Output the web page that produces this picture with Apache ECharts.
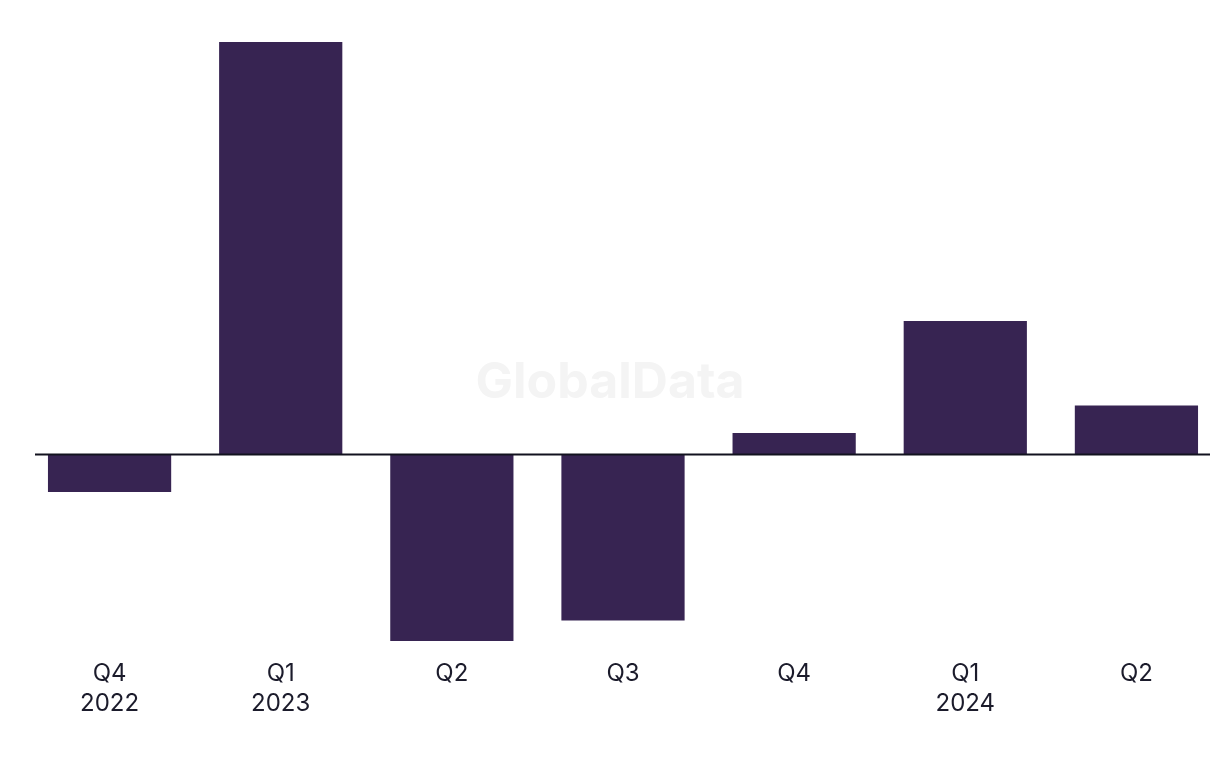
<!DOCTYPE html>
<html>
<head>
<meta charset="utf-8">
<script src="https://cdn.jsdelivr.net/npm/echarts@6/dist/echarts.min.js"></script>
<style>
html,body{margin:0;padding:0;background:#fff;}
#chart{width:1220px;height:768px;}
</style>
</head>
<body>
<div id="chart"></div>
<script>
const categories = ['Q4\n2022', 'Q1\n2023', 'Q2', 'Q3', 'Q4', 'Q1\n2024', 'Q2'];
const values = [-3.75, 41.25, -18.65, -16.6, 2.15, 13.35, 4.9];
const yMin = -18.65;
const yMax = 41.25;

const chart = echarts.init(document.getElementById('chart'));
const watermark = {
  type: 'text',
  left: 'center',
  top: 358,
  style: { text: 'GlobalData', font: 'bold 50px Inter', fill: '#f4f4f4' },
  z: 0
};
chart.setOption({
  backgroundColor: '#ffffff',
  animation: false,
  grid: { left: 24, top: 42, width: 1198, height: 599, outerBoundsMode: 'none', containLabel: false },
  xAxis: {
    type: 'category',
    data: categories,
    axisLine: { show: false, onZero: false },
    axisTick: { show: false },
    axisLabel: {
      margin: 18,
      fontFamily: 'Inter',
      fontSize: 24,
      lineHeight: 30,
      color: '#1b1b2b'
    }
  },
  yAxis: {
    type: 'value',
    min: yMin,
    max: yMax,
    show: false,
    splitLine: { show: false }
  },
  graphic: [watermark],
  series: [{
    type: 'bar',
    data: values,
    barCategoryGap: '28%',
    itemStyle: { color: '#372452' },
    z: 2
  }]
});

const y0 = chart.convertToPixel({ yAxisIndex: 0 }, 0);
chart.setOption({
  graphic: [watermark, {
    type: 'line',
    shape: { x1: 35, y1: y0, x2: 1210, y2: y0 },
    style: { stroke: '#12121f', lineWidth: 2 },
    z: 10
  }]
});
</script>
</body>
</html>
